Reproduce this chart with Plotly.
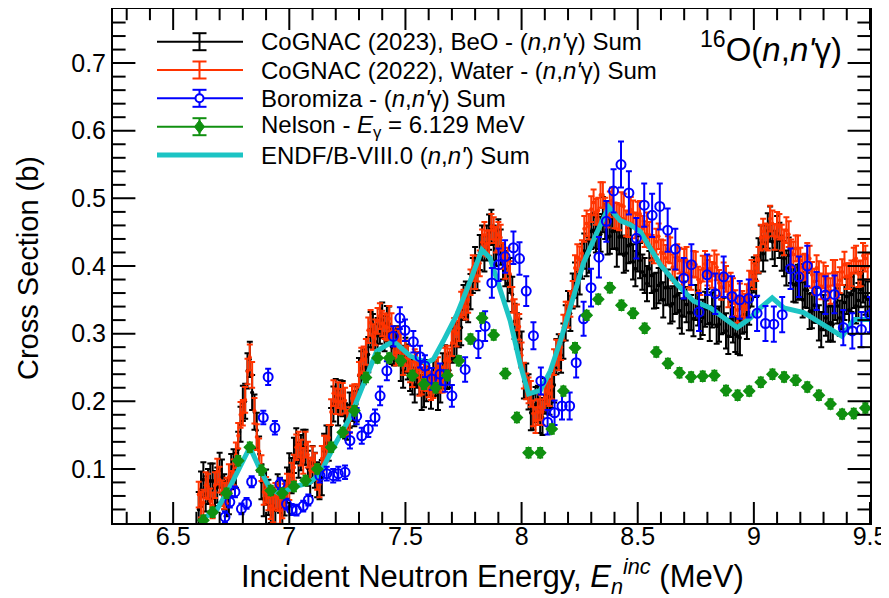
import plotly.graph_objects as go

# ---------------- data ----------------
# CoGNAC energy grid (MeV): two interleaved sets of bins
cognac_energy = [
    6.61, 6.63, 6.65, 6.67, 6.69, 6.71, 6.73, 6.75, 6.77, 6.79,
    6.81, 6.83, 6.85, 6.87, 6.89, 6.91, 6.93, 6.95, 6.97, 6.99,
    7.01, 7.03, 7.05, 7.07, 7.09, 7.11, 7.13, 7.15, 7.17, 7.19,
    7.21, 7.23, 7.25, 7.27, 7.29, 7.31, 7.33, 7.35, 7.37, 7.39,
    7.41, 7.43, 7.45, 7.47, 7.49, 7.51, 7.53, 7.55, 7.57, 7.59,
    7.61, 7.63, 7.65, 7.67, 7.69, 7.71, 7.73, 7.75, 7.77, 7.79,
    7.81, 7.83, 7.85, 7.87, 7.89, 7.91, 7.93, 7.95, 7.97, 7.99,
    8.01, 8.03, 8.05, 8.07, 8.09, 8.11, 8.13, 8.15, 8.17, 8.19,
    8.21, 8.23, 8.25, 8.27, 8.29, 8.31, 8.33, 8.35, 8.37, 8.39,
    8.41, 8.43, 8.45, 8.47, 8.49, 8.51, 8.53, 8.55, 8.57, 8.59,
    8.61, 8.63, 8.65, 8.67, 8.69, 8.71, 8.73, 8.75, 8.77, 8.79,
    8.81, 8.83, 8.85, 8.87, 8.89, 8.91, 8.93, 8.95, 8.97, 8.99,
    9.01, 9.03, 9.05, 9.07, 9.09, 9.11, 9.13, 9.15, 9.17, 9.19,
    9.21, 9.23, 9.25, 9.27, 9.29, 9.31, 9.33, 9.35, 9.37, 9.39,
    9.41, 9.43, 9.45, 9.47, 9.49,
]
cognac_energy_b = [
    6.62, 6.64, 6.66, 6.68, 6.70, 6.72, 6.74, 6.76, 6.78, 6.80,
    6.82, 6.84, 6.86, 6.88, 6.90, 6.92, 6.94, 6.96, 6.98, 7.00,
    7.02, 7.04, 7.06, 7.08, 7.10, 7.12, 7.14, 7.16, 7.18, 7.20,
    7.22, 7.24, 7.26, 7.28, 7.30, 7.32, 7.34, 7.36, 7.38, 7.40,
    7.42, 7.44, 7.46, 7.48, 7.50, 7.52, 7.54, 7.56, 7.58, 7.60,
    7.62, 7.64, 7.66, 7.68, 7.70, 7.72, 7.74, 7.76, 7.78, 7.80,
    7.82, 7.84, 7.86, 7.88, 7.90, 7.92, 7.94, 7.96, 7.98, 8.00,
    8.02, 8.04, 8.06, 8.08, 8.10, 8.12, 8.14, 8.16, 8.18, 8.20,
    8.22, 8.24, 8.26, 8.28, 8.30, 8.32, 8.34, 8.36, 8.38, 8.40,
    8.42, 8.44, 8.46, 8.48, 8.50, 8.52, 8.54, 8.56, 8.58, 8.60,
    8.62, 8.64, 8.66, 8.68, 8.70, 8.72, 8.74, 8.76, 8.78, 8.80,
    8.82, 8.84, 8.86, 8.88, 8.90, 8.92, 8.94, 8.96, 8.98, 9.00,
    9.02, 9.04, 9.06, 9.08, 9.10, 9.12, 9.14, 9.16, 9.18, 9.20,
    9.22, 9.24, 9.26, 9.28, 9.30, 9.32, 9.34, 9.36, 9.38, 9.40,
    9.42, 9.44, 9.46, 9.48,
]

cognac2023_beo = [
    0.040, 0.084, 0.074, 0.082, 0.076, 0.088, 0.056, 0.096, 0.098, 0.166,
    0.200, 0.262, 0.184, 0.122, 0.056, 0.058, 0.046, 0.066, 0.043, 0.076,
    0.090, 0.134, 0.124, 0.132, 0.086, 0.098, 0.081, 0.126, 0.138, 0.196,
    0.190, 0.204, 0.169, 0.197, 0.196, 0.248, 0.266, 0.306, 0.288, 0.311,
    0.300, 0.314, 0.279, 0.282, 0.246, 0.258, 0.236, 0.246, 0.213, 0.226,
    0.215, 0.234, 0.224, 0.257, 0.246, 0.288, 0.306, 0.346, 0.343, 0.386,
    0.390, 0.434, 0.434, 0.457, 0.426, 0.428, 0.396, 0.386, 0.318, 0.296,
    0.230, 0.214, 0.184, 0.197, 0.176, 0.208, 0.216, 0.266, 0.268, 0.316,
    0.330, 0.379, 0.384, 0.422, 0.416, 0.453, 0.451, 0.476, 0.443, 0.451,
    0.425, 0.444, 0.419, 0.432, 0.396, 0.408, 0.386, 0.396, 0.363, 0.371,
    0.350, 0.369, 0.344, 0.357, 0.326, 0.343, 0.331, 0.346, 0.318, 0.336,
    0.315, 0.339, 0.314, 0.327, 0.296, 0.313, 0.296, 0.326, 0.318, 0.366,
    0.380, 0.434, 0.434, 0.462, 0.426, 0.438, 0.411, 0.416, 0.373, 0.376,
    0.350, 0.364, 0.334, 0.342, 0.306, 0.323, 0.316, 0.346, 0.323, 0.346,
    0.335, 0.364, 0.349, 0.372, 0.351,
]
cognac2023_beo_b = [
    0.070, 0.063, 0.082, 0.071, 0.098, 0.066, 0.059, 0.103, 0.129, 0.197,
    0.245, 0.213, 0.157, 0.081, 0.073, 0.046, 0.039, 0.061, 0.057, 0.097,
    0.120, 0.113, 0.132, 0.101, 0.108, 0.084, 0.087, 0.138, 0.164, 0.207,
    0.205, 0.171, 0.187, 0.189, 0.238, 0.251, 0.269, 0.303, 0.297, 0.320,
    0.315, 0.281, 0.285, 0.256, 0.268, 0.241, 0.224, 0.236, 0.217, 0.235,
    0.233, 0.213, 0.245, 0.244, 0.283, 0.291, 0.309, 0.351, 0.362, 0.402,
    0.420, 0.418, 0.450, 0.434, 0.443, 0.406, 0.374, 0.358, 0.304, 0.277,
    0.230, 0.183, 0.195, 0.179, 0.208, 0.206, 0.224, 0.273, 0.289, 0.337,
    0.363, 0.366, 0.407, 0.411, 0.451, 0.446, 0.447, 0.466, 0.444, 0.452,
    0.443, 0.416, 0.430, 0.406, 0.418, 0.391, 0.374, 0.386, 0.364, 0.375,
    0.368, 0.341, 0.355, 0.334, 0.351, 0.331, 0.322, 0.338, 0.324, 0.340,
    0.335, 0.311, 0.325, 0.304, 0.321, 0.299, 0.294, 0.328, 0.339, 0.387,
    0.415, 0.418, 0.452, 0.436, 0.448, 0.419, 0.397, 0.401, 0.372, 0.377,
    0.365, 0.333, 0.342, 0.316, 0.331, 0.314, 0.314, 0.341, 0.332, 0.355,
    0.358, 0.341, 0.365, 0.354,
]

cognac2022_water = [
    0.062, 0.050, 0.074, 0.046, 0.096, 0.064, 0.068, 0.078, 0.120, 0.180,
    0.202, 0.265, 0.186, 0.126, 0.066, 0.058, 0.040, 0.057, 0.046, 0.074,
    0.090, 0.132, 0.124, 0.136, 0.098, 0.104, 0.077, 0.130, 0.146, 0.212,
    0.209, 0.208, 0.168, 0.204, 0.206, 0.260, 0.273, 0.316, 0.302, 0.326,
    0.311, 0.322, 0.286, 0.290, 0.258, 0.263, 0.240, 0.254, 0.229, 0.234,
    0.221, 0.242, 0.232, 0.260, 0.259, 0.304, 0.308, 0.346, 0.350, 0.397,
    0.396, 0.435, 0.433, 0.458, 0.439, 0.442, 0.400, 0.388, 0.332, 0.310,
    0.238, 0.216, 0.182, 0.184, 0.184, 0.215, 0.222, 0.272, 0.280, 0.328,
    0.344, 0.397, 0.410, 0.455, 0.458, 0.494, 0.482, 0.505, 0.476, 0.497,
    0.474, 0.490, 0.463, 0.483, 0.460, 0.477, 0.447, 0.446, 0.423, 0.444,
    0.419, 0.425, 0.398, 0.413, 0.390, 0.409, 0.384, 0.402, 0.376, 0.403,
    0.396, 0.404, 0.375, 0.386, 0.358, 0.363, 0.335, 0.344, 0.354, 0.390,
    0.397, 0.442, 0.444, 0.470, 0.443, 0.458, 0.435, 0.447, 0.417, 0.426,
    0.398, 0.415, 0.387, 0.397, 0.370, 0.381, 0.363, 0.390, 0.379, 0.402,
    0.385, 0.408, 0.388, 0.415, 0.399,
]
cognac2022_water_b = [
    0.047, 0.076, 0.052, 0.076, 0.084, 0.060, 0.088, 0.095, 0.149, 0.183,
    0.244, 0.239, 0.147, 0.101, 0.069, 0.045, 0.060, 0.038, 0.059, 0.073,
    0.102, 0.136, 0.112, 0.121, 0.114, 0.088, 0.115, 0.130, 0.184, 0.200,
    0.199, 0.201, 0.172, 0.206, 0.239, 0.262, 0.305, 0.295, 0.319, 0.315,
    0.309, 0.311, 0.272, 0.281, 0.271, 0.247, 0.258, 0.227, 0.236, 0.225,
    0.224, 0.246, 0.232, 0.263, 0.286, 0.300, 0.343, 0.340, 0.376, 0.385,
    0.404, 0.446, 0.434, 0.453, 0.446, 0.415, 0.408, 0.350, 0.324, 0.268,
    0.222, 0.211, 0.172, 0.191, 0.206, 0.212, 0.258, 0.265, 0.309, 0.328,
    0.359, 0.413, 0.419, 0.463, 0.484, 0.480, 0.505, 0.482, 0.491, 0.475,
    0.472, 0.488, 0.462, 0.478, 0.476, 0.455, 0.460, 0.427, 0.436, 0.420,
    0.412, 0.423, 0.394, 0.408, 0.406, 0.387, 0.403, 0.380, 0.396, 0.390,
    0.387, 0.398, 0.369, 0.381, 0.371, 0.345, 0.355, 0.340, 0.374, 0.385,
    0.409, 0.451, 0.442, 0.463, 0.461, 0.442, 0.453, 0.420, 0.426, 0.408,
    0.399, 0.411, 0.377, 0.388, 0.386, 0.370, 0.390, 0.372, 0.391, 0.385,
    0.389, 0.411, 0.389, 0.411,
]
beo_err = 0.026
water_err = 0.019

boromiza_energy = [
    6.723, 6.744, 6.766, 6.794, 6.816, 6.838, 6.888, 6.909, 6.938, 6.960,
    6.988, 7.010, 7.031, 7.060, 7.082, 7.132, 7.161, 7.189, 7.211, 7.240,
    7.261, 7.290, 7.312, 7.340, 7.369, 7.391, 7.420, 7.448, 7.476, 7.498,
    7.534, 7.563, 7.584, 7.613, 7.649, 7.671, 7.700, 7.757, 7.814, 7.843,
    7.872, 7.901, 7.929, 7.965, 7.991, 8.020, 8.051, 8.083, 8.112, 8.142,
    8.174, 8.207, 8.235, 8.267, 8.299, 8.333, 8.365, 8.396, 8.428, 8.462,
    8.494, 8.528, 8.562, 8.595, 8.629, 8.662, 8.698, 8.731, 8.764, 8.799,
    8.834, 8.870, 8.906, 8.939, 8.978, 9.014, 9.050, 9.086, 9.122, 9.158,
    9.194, 9.230, 9.270, 9.308, 9.347, 9.385, 9.424, 9.463, 9.500,
]
boromiza_xs = [
    0.029, 0.051, 0.066, 0.041, 0.049, 0.081, 0.176, 0.236, 0.161, 0.078,
    0.048, 0.040, 0.039, 0.045, 0.054, 0.090, 0.093, 0.090, 0.093, 0.095,
    0.142, 0.178, 0.149, 0.159, 0.176, 0.208, 0.245, 0.296, 0.323, 0.305,
    0.288, 0.266, 0.252, 0.233, 0.240, 0.230, 0.208, 0.247, 0.284, 0.311,
    0.375, 0.402, 0.414, 0.427, 0.411, 0.363, 0.297, 0.230, 0.169, 0.183,
    0.193, 0.193, 0.257, 0.322, 0.368, 0.413, 0.466, 0.511, 0.550, 0.508,
    0.441, 0.490, 0.475, 0.488, 0.453, 0.425, 0.382, 0.402, 0.332, 0.387,
    0.359, 0.384, 0.355, 0.350, 0.352, 0.330, 0.315, 0.314, 0.328, 0.396,
    0.384, 0.400, 0.363, 0.357, 0.358, 0.309, 0.304, 0.306, 0.328,
]
boromiza_err = [
    0.008, 0.008, 0.008, 0.008, 0.008, 0.008, 0.010, 0.012, 0.010, 0.008,
    0.008, 0.008, 0.008, 0.008, 0.008, 0.010, 0.010, 0.010, 0.010, 0.010,
    0.012, 0.012, 0.012, 0.012, 0.012, 0.014, 0.014, 0.015, 0.016, 0.016,
    0.016, 0.016, 0.016, 0.016, 0.016, 0.016, 0.016, 0.018, 0.020, 0.022,
    0.022, 0.024, 0.024, 0.024, 0.024, 0.022, 0.020, 0.020, 0.018, 0.018,
    0.020, 0.020, 0.022, 0.025, 0.028, 0.030, 0.030, 0.032, 0.034, 0.032,
    0.030, 0.032, 0.032, 0.034, 0.032, 0.030, 0.030, 0.030, 0.028, 0.030,
    0.030, 0.030, 0.030, 0.028, 0.028, 0.026, 0.026, 0.026, 0.026, 0.030,
    0.030, 0.030, 0.028, 0.028, 0.028, 0.026, 0.026, 0.026, 0.026,
]

nelson_energy = [
    6.63, 6.67, 6.73, 6.78, 6.83, 6.88, 6.92, 6.97, 7.02, 7.07,
    7.12, 7.18, 7.23, 7.28, 7.33, 7.38, 7.43, 7.48, 7.53, 7.58,
    7.63, 7.68, 7.73, 7.78, 7.83, 7.88, 7.93, 7.98, 8.03, 8.08,
    8.13, 8.18, 8.23, 8.28, 8.33, 8.38, 8.43, 8.48, 8.53, 8.58,
    8.63, 8.68, 8.73, 8.78, 8.83, 8.88, 8.93, 8.98, 9.03, 9.08,
    9.13, 9.18, 9.23, 9.28, 9.33, 9.38, 9.43, 9.48,
]
nelson_xs = [
    0.024, 0.036, 0.064, 0.112, 0.132, 0.098, 0.068, 0.064, 0.074, 0.083,
    0.100, 0.132, 0.154, 0.186, 0.235, 0.264, 0.264, 0.260, 0.238, 0.225,
    0.220, 0.238, 0.260, 0.292, 0.323, 0.298, 0.241, 0.176, 0.124, 0.124,
    0.159, 0.215, 0.279, 0.327, 0.351, 0.368, 0.342, 0.330, 0.308, 0.273,
    0.256, 0.242, 0.236, 0.237, 0.238, 0.216, 0.209, 0.215, 0.228, 0.240,
    0.236, 0.231, 0.221, 0.209, 0.196, 0.181, 0.182, 0.190,
]
nelson_err_y = 0.007
nelson_err_x = 0.022

endf_energy = [
    6.629, 6.687, 6.744, 6.830, 6.873, 6.916, 6.960, 7.017, 7.089, 7.132,
    7.190, 7.262, 7.319, 7.376, 7.448, 7.520, 7.592, 7.620, 7.663, 7.721,
    7.778, 7.829, 7.864, 7.908, 7.951, 7.994, 8.030, 8.081, 8.124, 8.167,
    8.210, 8.267, 8.325, 8.375, 8.425, 8.468, 8.511, 8.554, 8.597, 8.669,
    8.741, 8.813, 8.870, 8.928, 8.985, 9.028, 9.079, 9.129, 9.215, 9.273,
    9.330, 9.380, 9.431, 9.500,
]
endf_xs = [
    0.027, 0.039, 0.073, 0.132, 0.100, 0.071, 0.063, 0.073, 0.080, 0.093,
    0.132, 0.176, 0.225, 0.274, 0.289, 0.267, 0.257, 0.262, 0.289, 0.328,
    0.377, 0.424, 0.412, 0.367, 0.319, 0.255, 0.211, 0.216, 0.245, 0.289,
    0.338, 0.405, 0.450, 0.487, 0.467, 0.461, 0.451, 0.427, 0.402, 0.373,
    0.348, 0.338, 0.323, 0.309, 0.323, 0.338, 0.353, 0.338, 0.331, 0.319,
    0.306, 0.296, 0.321, 0.321,
]

# axis tick positions and labels
x_major_ticks = [6.5, 7.0, 7.5, 8.0, 8.5, 9.0, 9.5]
x_tick_labels = ["6.5", "7", "7.5", "8", "8.5", "9", "9.5"]
x_minor_ticks = [6.3, 6.4, 6.6, 6.7, 6.8, 6.9, 7.1, 7.2, 7.3, 7.4, 7.6, 7.7, 7.8,
                 7.9, 8.1, 8.2, 8.3, 8.4, 8.6, 8.7, 8.8, 8.9, 9.1, 9.2, 9.3, 9.4]
y_major_ticks = [0.1, 0.2, 0.3, 0.4, 0.5, 0.6, 0.7]
y_tick_labels = ["0.1", "0.2", "0.3", "0.4", "0.5", "0.6", "0.7"]
y_minor_ticks = [0.04, 0.06, 0.08, 0.12, 0.14, 0.16, 0.18, 0.22, 0.24, 0.26, 0.28,
                 0.32, 0.34, 0.36, 0.38, 0.42, 0.44, 0.46, 0.48, 0.52, 0.54, 0.56,
                 0.58, 0.62, 0.64, 0.66, 0.68, 0.72, 0.74, 0.76]

legend_labels = [
    "CoGNAC (2023), BeO - (<i>n</i>,<i>n'</i>γ) Sum",
    "CoGNAC (2022), Water - (<i>n</i>,<i>n'</i>γ) Sum",
    "Boromiza - (<i>n</i>,<i>n'</i>γ) Sum",
    "Nelson - <i>E</i><sub>γ</sub> = 6.129 MeV",
    "ENDF/B-VIII.0 (<i>n</i>,<i>n'</i>) Sum",
]
x_title = "Incident Neutron Energy, <i>E</i><sub><i>n</i></sub><sup><i>inc</i></sup> (MeV)"
y_title = "Cross Section (b)"
plot_label = "<sup>16</sup>O(<i>n</i>,<i>n'</i>γ)"

assert len(cognac2023_beo) == len(cognac_energy) == len(cognac2022_water)
assert len(cognac2023_beo_b) == len(cognac_energy_b) == len(cognac2022_water_b)
assert len(boromiza_xs) == len(boromiza_energy) == len(boromiza_err)
assert len(nelson_xs) == len(nelson_energy)
assert len(endf_xs) == len(endf_energy)

# ---------------- styling ----------------
BLACK = "#000000"
RED = "#ff3300"
BLUE = "#0000ff"
GREEN = "#109010"
CYAN = "#1cc4c4"
FONT = "Liberation Sans, Arial, Helvetica, sans-serif"
XRANGE = [6.241, 9.5]
YRANGE = [0.02, 0.78]

# the page body has an 8 px margin: the figure is sized to fit the window
OFF = 8
W, H = 889 - OFF, 598 - OFF
# plot area, in window pixels
PX0, PX1 = 113, 870
PY0, PY1 = 9, 523
PW, PH = PX1 - PX0, PY1 - PY0

fig = go.Figure()

fig.add_trace(go.Scatter(
    x=cognac_energy + cognac_energy_b, y=cognac2023_beo + cognac2023_beo_b, mode="markers",
    marker=dict(color=BLACK, size=4),
    error_y=dict(type="constant", value=beo_err, color=BLACK, thickness=2, width=3),
    name="CoGNAC (2023)", showlegend=False))

fig.add_trace(go.Scatter(
    x=cognac_energy + cognac_energy_b, y=cognac2022_water + cognac2022_water_b, mode="markers",
    marker=dict(color=RED, size=4),
    error_y=dict(type="constant", value=water_err, color=RED, thickness=2, width=3),
    name="CoGNAC (2022)", showlegend=False))

fig.add_trace(go.Scatter(
    x=endf_energy, y=endf_xs, mode="lines",
    line=dict(color=CYAN, width=5),
    name="ENDF/B-VIII.0", showlegend=False))

fig.add_trace(go.Scatter(
    x=boromiza_energy, y=boromiza_xs, mode="markers",
    marker=dict(symbol="circle-open", color=BLUE, size=9, line=dict(width=2, color=BLUE)),
    error_y=dict(type="data", array=boromiza_err, color=BLUE, thickness=2, width=3),
    name="Boromiza", showlegend=False))

fig.add_trace(go.Scatter(
    x=nelson_energy, y=nelson_xs, mode="markers",
    marker=dict(symbol="diamond", color=GREEN, size=10),
    error_y=dict(type="constant", value=nelson_err_y, color=GREEN, thickness=2, width=3),
    error_x=dict(type="constant", value=nelson_err_x, color=GREEN, thickness=2, width=0),
    name="Nelson", showlegend=False))

# tick marks on all four frame edges, as line-shaped markers centred on the frame
# (the half outside the plot area is clipped away, leaving inside ticks)
for vals, size in ((x_major_ticks, 30), (x_minor_ticks, 16)):
    fig.add_trace(go.Scatter(
        x=vals + vals, y=[YRANGE[0]] * len(vals) + [YRANGE[1]] * len(vals),
        mode="markers", cliponaxis=True, hoverinfo="skip", showlegend=False,
        marker=dict(symbol="line-ns", size=size, color="black",
                    line=dict(width=2, color="black"))))
for vals, size in ((y_major_ticks, 32), (y_minor_ticks, 18)):
    fig.add_trace(go.Scatter(
        x=[XRANGE[0]] * len(vals) + [XRANGE[1]] * len(vals), y=vals + vals,
        mode="markers", cliponaxis=True, hoverinfo="skip", showlegend=False,
        marker=dict(symbol="line-ew", size=size, color="black",
                    line=dict(width=2, color="black"))))


def fx(px):
    return (px - PX0) / PW


def fy(py):
    return (PY1 - py) / PH


shapes = []
annotations = []

# legend, drawn by hand in the ROOT style
rows = [41.7, 70.0, 98.3, 126.7, 155.0]
colors = [BLACK, RED, BLUE, GREEN]
for i, col in enumerate(colors):
    y = rows[i]
    shapes.append(dict(type="line", xref="paper", yref="paper",
                       x0=fx(157), x1=fx(243), y0=fy(y), y1=fy(y),
                       line=dict(color=col, width=2)))
    shapes.append(dict(type="line", xref="paper", yref="paper",
                       x0=fx(199.5), x1=fx(199.5), y0=fy(y - 8.5), y1=fy(y + 8.5),
                       line=dict(color=col, width=2)))
    for dy in (-8.5, 8.5):
        shapes.append(dict(type="line", xref="paper", yref="paper",
                           x0=fx(192.5), x1=fx(206.5), y0=fy(y + dy), y1=fy(y + dy),
                           line=dict(color=col, width=2)))
y = rows[2]
shapes.append(dict(type="circle", xref="paper", yref="paper",
                   x0=fx(195.5), x1=fx(203.5), y0=fy(y + 4), y1=fy(y - 4),
                   fillcolor="white", line=dict(color=BLUE, width=2)))
y = rows[3]
path = "M {a},{b} L {c},{d} L {a},{e} L {f},{d} Z".format(
    a=fx(199.5), b=fy(y - 6.5), c=fx(204.5), d=fy(y), e=fy(y + 6.5), f=fx(194.5))
shapes.append(dict(type="path", xref="paper", yref="paper", path=path,
                   fillcolor=GREEN, line=dict(color=GREEN, width=1)))
y = rows[4]
shapes.append(dict(type="line", xref="paper", yref="paper",
                   x0=fx(157), x1=fx(243), y0=fy(y), y1=fy(y),
                   line=dict(color=CYAN, width=5)))

for i, lab in enumerate(legend_labels):
    annotations.append(dict(x=fx(259), y=fy(rows[i]), xref="paper", yref="paper",
                            xanchor="left", yanchor="middle", showarrow=False,
                            text=lab, font=dict(family=FONT, size=24, color="black")))

annotations.append(dict(x=fx(844), y=fy(47), xref="paper", yref="paper",
                        xanchor="right", yanchor="middle", showarrow=False,
                        text=plot_label, font=dict(family=FONT, size=33, color="black")))

annotations.append(dict(x=fx(492), y=fy(576), xref="paper", yref="paper",
                        xanchor="center", yanchor="middle", showarrow=False,
                        text=x_title, font=dict(family=FONT, size=31, color="black")))
annotations.append(dict(x=fx(28), y=fy(268), xref="paper", yref="paper",
                        xanchor="center", yanchor="middle", showarrow=False, textangle=-90,
                        text=y_title, font=dict(family=FONT, size=29, color="black")))

base = dict(showline=True, linewidth=2, linecolor="black", mirror=True, ticks="",
            showgrid=False, zeroline=False, automargin=False)

fig.update_layout(
    width=W, height=H,
    margin=dict(l=PX0 - OFF, r=W - (PX1 - OFF), t=PY0 - OFF, b=H - (PY1 - OFF)),
    paper_bgcolor="white", plot_bgcolor="white",
    font=dict(family=FONT, color="black"),
    showlegend=False,
    shapes=shapes,
    annotations=annotations,
    xaxis=dict(range=XRANGE, tickmode="array", tickvals=x_major_ticks,
               ticktext=x_tick_labels, ticklabelstandoff=-10,
               tickfont=dict(family=FONT, size=25, color="black"), **base),
    yaxis=dict(range=YRANGE, tickmode="array", tickvals=y_major_ticks,
               ticktext=y_tick_labels,
               tickfont=dict(family=FONT, size=25, color="black"), **base),
)

fig.write_html("out.html")
